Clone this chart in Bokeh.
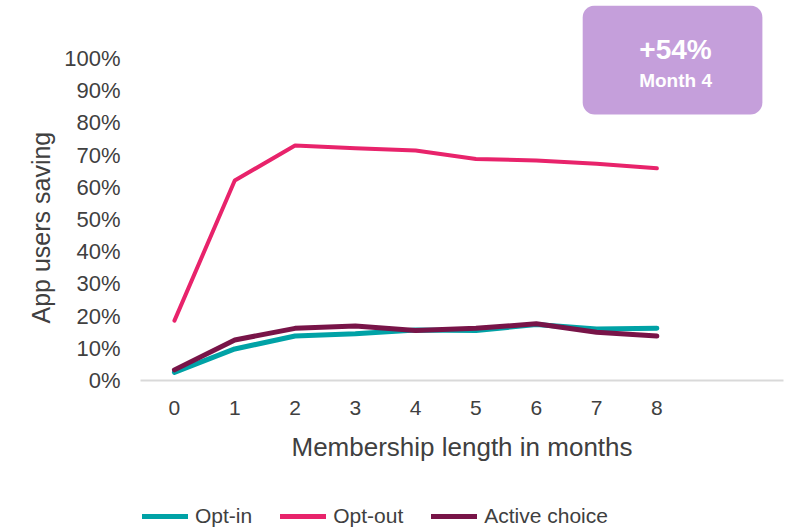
from bokeh.plotting import figure
from bokeh.layouts import column
from bokeh.models import (FixedTicker, NumeralTickFormatter, Legend, LegendItem,
                          BoxAnnotation, Label, Range1d, Title)
from bokeh.embed import file_html
from bokeh.resources import INLINE

# ---- data ----
months = [0, 1, 2, 3, 4, 5, 6, 7, 8]
opt_in = [0.025, 0.098, 0.138, 0.145, 0.157, 0.155, 0.174, 0.160, 0.162]
opt_out = [0.186, 0.621, 0.730, 0.721, 0.714, 0.688, 0.683, 0.673, 0.659]
active_choice = [0.033, 0.126, 0.162, 0.169, 0.155, 0.162, 0.176, 0.150, 0.138]
y_ticks = [0.0, 0.1, 0.2, 0.3, 0.4, 0.5, 0.6, 0.7, 0.8, 0.9, 1.0]
series_names = ["Opt-in", "Opt-out", "Active choice"]
callout_value = "+54%"
callout_label = "Month 4"
x_title = "Membership length in months"
y_title = "App users saving"

# ---- style ----
FONT = "Liberation Sans"
TEXT = "#404040"
COLORS = ["#00A2A6", "#E8236B", "#781448"]
WIDTHS = [5, 4, 5]
BOX_COLOR = "#C59FDB"
series = [opt_in, opt_out, active_choice]

p = figure(width=792, height=495, output_backend="svg", toolbar_location=None,
           x_range=Range1d(-0.563, 10.1), y_range=Range1d(0, 1.1646),
           min_border_left=140, min_border_right=9, min_border_top=5,
           min_border_bottom=115, outline_line_color=None)
p.grid.visible = False

for ys, c, w in zip(series, COLORS, WIDTHS):
    p.line(months, ys, line_color=c, line_width=w, line_cap="round", line_join="round")

# y axis
ya = p.yaxis[0]
ya.ticker = FixedTicker(ticks=y_ticks)
ya.formatter = NumeralTickFormatter(format="0%")
ya.axis_line_color = None
ya.major_tick_line_color = None
ya.minor_tick_line_color = None
ya.major_tick_out = 0
ya.major_label_standoff = 20
ya.major_label_text_font = FONT
ya.major_label_text_font_size = "22px"
ya.major_label_text_color = TEXT

p.add_layout(Title(text=y_title, align="left", offset=57, standoff=14,
                   text_font=FONT, text_font_size="25px", text_font_style="normal",
                   text_color=TEXT), "left")

# x axis
xa = p.xaxis[0]
xa.ticker = FixedTicker(ticks=months)
xa.axis_line_color = "#D9D9D9"
xa.axis_line_width = 2
xa.major_tick_line_color = None
xa.minor_tick_line_color = None
xa.major_tick_out = 0
xa.major_label_standoff = 20
xa.major_label_text_font = FONT
xa.major_label_text_font_size = "21px"
xa.major_label_text_color = TEXT
xa.axis_label = x_title
xa.axis_label_text_font = FONT
xa.axis_label_text_font_size = "26px"
xa.axis_label_text_font_style = "normal"
xa.axis_label_text_color = TEXT
xa.axis_label_standoff = 14

# callout
box = BoxAnnotation(left=6.77, right=9.75, bottom=0.826, top=1.1646,
                    fill_color=BOX_COLOR, fill_alpha=1.0, line_color=None,
                    border_radius=12)
p.add_layout(box)
p.add_layout(Label(x=8.31, y=1.028, text=callout_value, text_align="center",
                   text_baseline="middle", text_font=FONT, text_font_style="bold",
                   text_font_size="28px", text_color="white"))
p.add_layout(Label(x=8.31, y=0.932, text=callout_label, text_align="center",
                   text_baseline="middle", text_font=FONT, text_font_style="bold",
                   text_font_size="19px", text_color="white"))

# legend strip (series drawn out of view; only the legend shows)
lg = figure(width=792, height=34, output_backend="svg", toolbar_location=None,
            x_axis_location=None, y_axis_location=None, min_border=0,
            outline_line_color=None, x_range=Range1d(0, 1), y_range=Range1d(50, 51))
lg.grid.visible = False
items = []
for n, ys, c in zip(series_names, series, COLORS):
    r = lg.line(months, ys, line_color=c, line_width=5, line_cap="round")
    items.append(LegendItem(label=n, renderers=[r]))
legend = Legend(items=items, orientation="horizontal", location=(2, 1),
                background_fill_alpha=0, border_line_color=None,
                glyph_width=46, glyph_height=20, label_height=20,
                label_standoff=7, spacing=28,
                padding=0, margin=0, label_text_font=FONT,
                label_text_font_size="21px", label_text_color=TEXT)
lg.add_layout(legend, "center")

open("out.html", "w").write(file_html(column(p, lg, spacing=0), INLINE))
